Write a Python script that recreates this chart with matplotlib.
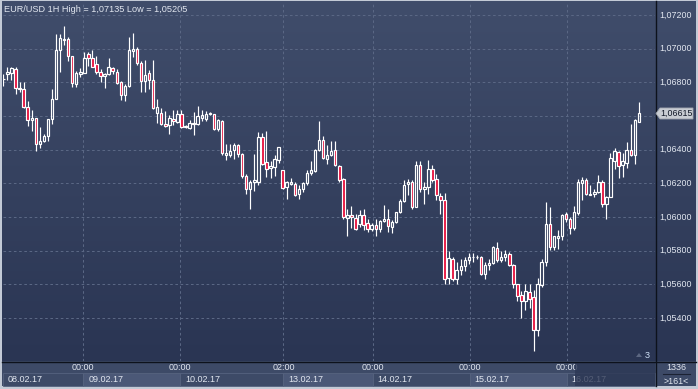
import numpy as np
import matplotlib
matplotlib.use("Agg")
import matplotlib.pyplot as plt
from matplotlib.transforms import blended_transform_factory, offset_copy
from matplotlib.patches import Rectangle, Polygon
from matplotlib.colors import LinearSegmentedColormap

# ---------------- data (EUR/USD 1H candles) ----------------
opens = [1.06818, 1.0685, 1.06856, 1.0688, 1.06766, 1.0676, 1.06654, 1.06574, 1.06586, 1.06436,
         1.06454, 1.0648, 1.0658, 1.067, 1.06994, 1.0705, 1.07056, 1.06954, 1.0679, 1.0685,
         1.06854, 1.0697, 1.06946, 1.06906, 1.06864, 1.0684, 1.0685, 1.06886, 1.06864, 1.06804,
         1.06726, 1.06778, 1.06986, 1.06998, 1.06916, 1.0681, 1.06854, 1.06814, 1.0662, 1.06616,
         1.0655, 1.06546, 1.06584, 1.06566, 1.0661, 1.0654, 1.0653, 1.0656, 1.0655, 1.06586,
         1.06584, 1.06614, 1.0661, 1.0652, 1.0657, 1.0637, 1.06366, 1.064, 1.06426, 1.06374,
         1.06246, 1.06166, 1.06206, 1.0621, 1.06474, 1.06324, 1.0629, 1.063, 1.0634, 1.0628,
         1.06176, 1.06194, 1.06198, 1.06134, 1.06166, 1.062, 1.0626, 1.06274, 1.064, 1.0646,
         1.06346, 1.0637, 1.064, 1.06306, 1.06226, 1.05994, 1.06014, 1.05994, 1.05958, 1.0601,
         1.05966, 1.05926, 1.05954, 1.0593, 1.05974, 1.05986, 1.05938, 1.0597, 1.0603, 1.06094,
         1.06194, 1.0621, 1.0606, 1.0631, 1.06164, 1.06176, 1.06284, 1.06224, 1.06124, 1.061,
         1.0564, 1.0575, 1.0563, 1.05684, 1.0571, 1.05744, 1.0576, 1.05762, 1.05764, 1.05664,
         1.05716, 1.05728, 1.05816, 1.05744, 1.0576, 1.0578, 1.05716, 1.056, 1.05536, 1.05504,
         1.05556, 1.05524, 1.0533, 1.05596, 1.0573, 1.0596, 1.05824, 1.05876, 1.0589, 1.06016,
         1.0599, 1.05936, 1.06024, 1.06204, 1.0622, 1.0613, 1.06136, 1.0615, 1.0621, 1.06076,
         1.0612, 1.06334, 1.06386, 1.0631, 1.0632, 1.064, 1.06366, 1.06566]
highs = [1.0685, 1.0689, 1.06894, 1.0689, 1.068, 1.068, 1.0669, 1.06634, 1.0659, 1.06534,
         1.06494, 1.0658, 1.0676, 1.0709, 1.07086, 1.07135, 1.0707, 1.06954, 1.0687, 1.06884,
         1.0698, 1.0698, 1.06994, 1.06954, 1.0688, 1.06854, 1.06944, 1.06894, 1.0688, 1.0681,
         1.0679, 1.0707, 1.07094, 1.0701, 1.06924, 1.0693, 1.06874, 1.06934, 1.067, 1.0665,
         1.0663, 1.06604, 1.06634, 1.06634, 1.06634, 1.06546, 1.06574, 1.06626, 1.0666, 1.06634,
         1.0663, 1.06626, 1.0661, 1.0658, 1.06574, 1.06434, 1.06434, 1.0644, 1.06434, 1.0638,
         1.06254, 1.0622, 1.06374, 1.06504, 1.065, 1.0651, 1.0633, 1.0637, 1.06414, 1.0628,
         1.06214, 1.0623, 1.0621, 1.0619, 1.0621, 1.0628, 1.0633, 1.06406, 1.0657, 1.0648,
         1.0643, 1.0645, 1.06454, 1.0631, 1.06234, 1.06046, 1.06066, 1.0602, 1.0604, 1.06046,
         1.0599, 1.05966, 1.05986, 1.0598, 1.06074, 1.06046, 1.0598, 1.0603, 1.0611, 1.0622,
         1.06226, 1.0622, 1.0633, 1.0633, 1.0621, 1.0634, 1.0631, 1.06256, 1.06144, 1.0614,
         1.058, 1.0576, 1.0573, 1.05748, 1.0576, 1.05784, 1.05784, 1.05776, 1.0577, 1.0573,
         1.0575, 1.0583, 1.0585, 1.058, 1.05804, 1.0579, 1.0572, 1.05604, 1.0556, 1.056,
         1.056, 1.05564, 1.0564, 1.0575, 1.0609, 1.0606, 1.0589, 1.0592, 1.0602, 1.0603,
         1.06, 1.06064, 1.06224, 1.06236, 1.0623, 1.0619, 1.06164, 1.0625, 1.0622, 1.06124,
         1.0638, 1.0641, 1.06394, 1.0638, 1.06444, 1.06554, 1.0658, 1.06684]
lows = [1.06776, 1.06814, 1.06814, 1.0673, 1.0674, 1.0665, 1.0654, 1.0651, 1.0639, 1.0641,
        1.06446, 1.0645, 1.0655, 1.067, 1.0686, 1.0702, 1.06926, 1.0677, 1.0677, 1.0683,
        1.06854, 1.069, 1.0689, 1.0685, 1.068, 1.06764, 1.06844, 1.0685, 1.0679, 1.06696,
        1.0669, 1.0677, 1.0695, 1.06904, 1.0674, 1.0674, 1.0676, 1.0664, 1.0656, 1.06546,
        1.06534, 1.06494, 1.06546, 1.0656, 1.0653, 1.06526, 1.06524, 1.0649, 1.06546, 1.0657,
        1.0657, 1.06606, 1.06516, 1.0651, 1.0637, 1.0634, 1.06354, 1.06346, 1.06354, 1.06234,
        1.06134, 1.06046, 1.06154, 1.0619, 1.0631, 1.0624, 1.0623, 1.06246, 1.0632, 1.06166,
        1.0611, 1.0619, 1.06126, 1.0611, 1.0615, 1.0619, 1.0625, 1.0627, 1.06394, 1.06346,
        1.06314, 1.0636, 1.06306, 1.06206, 1.0599, 1.0589, 1.05934, 1.0592, 1.0594, 1.0592,
        1.05914, 1.05918, 1.05886, 1.05914, 1.0597, 1.05914, 1.05906, 1.05966, 1.06026, 1.0609,
        1.0613, 1.0605, 1.0606, 1.0615, 1.0608, 1.06136, 1.0621, 1.061, 1.06016, 1.056,
        1.056, 1.0562, 1.056, 1.05656, 1.0568, 1.0572, 1.0573, 1.0575, 1.05656, 1.0563,
        1.05684, 1.0572, 1.0573, 1.0573, 1.05736, 1.0571, 1.0558, 1.05504, 1.054, 1.0545,
        1.0546, 1.05205, 1.05296, 1.05584, 1.0571, 1.05804, 1.05804, 1.0581, 1.05864, 1.0597,
        1.059, 1.05924, 1.0601, 1.061, 1.0613, 1.0613, 1.0612, 1.06144, 1.0606, 1.0599,
        1.0612, 1.06286, 1.0623, 1.0624, 1.0629, 1.0636, 1.06314, 1.06566]
closes = [1.06822, 1.0686, 1.06884, 1.06764, 1.0676, 1.06654, 1.06574, 1.0659, 1.06434, 1.0645,
          1.0648, 1.0658, 1.067, 1.06994, 1.07066, 1.0706, 1.06956, 1.06794, 1.06854, 1.06864,
          1.06946, 1.06946, 1.06894, 1.0686, 1.06838, 1.0685, 1.06894, 1.06866, 1.06796, 1.06726,
          1.0678, 1.0699, 1.07, 1.06914, 1.0681, 1.06846, 1.06814, 1.06646, 1.06654, 1.0655,
          1.0654, 1.0659, 1.0657, 1.0661, 1.06534, 1.06536, 1.0656, 1.0655, 1.066, 1.06604,
          1.06614, 1.0662, 1.0652, 1.06574, 1.0638, 1.0638, 1.06394, 1.06426, 1.06374, 1.06246,
          1.06166, 1.0621, 1.0622, 1.06474, 1.06314, 1.06284, 1.06306, 1.06346, 1.06414, 1.06174,
          1.06206, 1.0621, 1.0613, 1.06166, 1.062, 1.0626, 1.0628, 1.064, 1.0646, 1.0635,
          1.0637, 1.06394, 1.0631, 1.0622, 1.06, 1.06014, 1.06, 1.0593, 1.0601, 1.05954,
          1.05926, 1.05954, 1.05926, 1.05974, 1.05986, 1.05946, 1.0597, 1.0603, 1.06094, 1.0619,
          1.0621, 1.06058, 1.0631, 1.06164, 1.06176, 1.06284, 1.0622, 1.0613, 1.061, 1.05634,
          1.05756, 1.0563, 1.05684, 1.0571, 1.05744, 1.0576, 1.05764, 1.0576, 1.05664, 1.05716,
          1.05728, 1.05824, 1.05744, 1.05764, 1.0578, 1.05716, 1.056, 1.0553, 1.055, 1.0556,
          1.05516, 1.0533, 1.056, 1.0573, 1.0596, 1.0582, 1.0589, 1.0589, 1.0601, 1.0599,
          1.05936, 1.0603, 1.0621, 1.0622, 1.06136, 1.06136, 1.0615, 1.0621, 1.0608, 1.0612,
          1.0635, 1.0639, 1.06306, 1.0633, 1.064, 1.06366, 1.06574, 1.06615]

price_ticks = [1.072, 1.070, 1.068, 1.066, 1.064, 1.062, 1.060, 1.058, 1.056, 1.054]
time_tick_pos = [19.7, 43.7, 69.2, 91.2, 115.2, 139.2]
time_tick_labels = ["00:00", "00:00", "02:00", "00:00", "00:00", "00:00"]
date_labels = ["08.02.17", "09.02.17", "10.02.17", "13.02.17", "14.02.17", "15.02.17", "16.02.17"]
title = "EUR/USD 1H High = 1,07135 Low = 1,05205"
last_price = 1.06615
bars_total = "1336"
bars_visible = ">161<"

# ---------------- styling ----------------
W, H = 698, 389
FONT = "Liberation Sans"
TXT = "#e2e7f0"
RED = "#e6103c"
GRID = "#5a6784"
PX_PER_PRICE = 16835.0

fig = plt.figure(figsize=(W / 100, H / 100), dpi=100)
fig.patch.set_facecolor("#c3cad6")

bg = fig.add_axes([0, 0, 1, 1])
bg.set_xlim(0, W)
bg.set_ylim(H, 0)
bg.axis("off")

cmap = LinearSegmentedColormap.from_list("bg", ["#404d6b", "#2a3553"])
grad = np.linspace(0, 1, 256).reshape(-1, 1)
bg.imshow(grad, cmap=cmap, extent=(2, 696, 361, 1), aspect="auto", zorder=0)
# bottom band
bg.add_patch(Rectangle((2, 361), 694, 25, facecolor="#3d4a67", edgecolor="none", zorder=1))

# main axes
ax = fig.add_axes([3 / W, (H - 361) / H, 652 / W, 359 / H])
ax.set_facecolor("none")
ax.set_xlim(-0.1, 161.0)
ax.set_ylim(1.051448, 1.072772)
ax.axis("off")

for p in price_ticks:
    ax.axhline(p, color=GRID, lw=0.75, ls=(0, (2.5, 2.5)), zorder=1)
for t in time_tick_pos:
    ax.axvline(t, color=GRID, lw=0.75, ls=(0, (2.5, 2.5)), zorder=1)

o = np.array(opens); c = np.array(closes); h = np.array(highs); l = np.array(lows)
x = np.arange(len(o))
top = np.maximum(o, c)
bot = np.minimum(o, c)
up = c >= o
ax.vlines(x, top, h, color="white", lw=0.85, zorder=3)
ax.vlines(x, l, bot, color="white", lw=0.85, zorder=3)
hgt = np.maximum(top - bot, 1e-6)
ax.bar(x[up], hgt[up], bottom=bot[up], width=0.6, facecolor="none",
       edgecolor="white", linewidth=0.85, zorder=4)
ax.bar(x[~up], hgt[~up], bottom=bot[~up], width=0.6, facecolor=RED,
       edgecolor="white", linewidth=0.85, zorder=4)

# right price panel
axr = fig.add_axes([655 / W, (H - 361) / H, 41 / W, 359 / H])
axr.set_facecolor("none")
axr.set_xlim(0, 41)
axr.set_ylim(ax.get_ylim())
axr.axis("off")
hh = 5.5 / PX_PER_PRICE
for p in price_ticks:
    if abs(p - last_price) < 2.2 * hh:
        continue  # hidden behind the last-price marker
    axr.text(4, p, f"{p:.5f}".replace(".", ","), fontsize=6.4, family=FONT,
             color=TXT, va="center", ha="left")
axr.add_patch(Polygon([(1, last_price), (5, last_price + hh), (38, last_price + hh),
                       (38, last_price - hh), (5, last_price - hh)], closed=True,
                      facecolor="#c9cdd3", edgecolor="#9ea4ae", lw=0.6, zorder=5))
axr.text(5.3, last_price, f"{last_price:.5f}".replace(".", ","), fontsize=6.4, family=FONT,
         color="#111827", va="center", ha="left", zorder=6)

# separators
bg.plot([655.5, 655.5], [1, 386], color="#0d121c", lw=1.0, zorder=6)
bg.plot([2, 696], [361.5, 361.5], color="#0d121c", lw=1.0, zorder=6)

# title
bg.text(4, 9, title, fontsize=6.6, family=FONT, color=TXT, va="center", ha="left", zorder=7)

# bottom time axis
tr = blended_transform_factory(ax.transData, bg.transData)
box_starts = [ax.get_xlim()[0]] + time_tick_pos
box_ends = time_tick_pos + [ax.get_xlim()[1]]
for i, (s, e) in enumerate(zip(box_starts, box_ends)):
    light = i in (1, 3, 5)
    bg.add_patch(Rectangle((s, 373), e - s, 13, transform=tr,
                           facecolor="#4b5877" if light else "#3d4a67",
                           edgecolor="#56637f", lw=0.6, zorder=2))
    bg.text(s, 380, date_labels[i], transform=offset_copy(tr, fig=fig, x=5, y=0, units="dots"),
            fontsize=6.5, family=FONT, color=TXT, va="center", ha="left", zorder=3)
for t, lab in zip(time_tick_pos, time_tick_labels):
    bg.text(t, 368, lab, transform=tr, fontsize=6.5, family=FONT, color=TXT,
            va="center", ha="center", zorder=3)
# scroll overlay on the last day
bg.add_patch(Rectangle((575, 362), 80, 24, facecolor="#2c3754", alpha=0.78,
                       edgecolor="none", zorder=4))

# corner box
bg.text(676, 368, bars_total, fontsize=6.4, family=FONT, color=TXT, va="center", ha="center", zorder=7)
bg.plot([663, 690], [373.5, 373.5], color="#1b2233", lw=0.8, zorder=7)
bg.text(676, 381, bars_visible, fontsize=6.4, family=FONT, color=TXT, va="center", ha="center", zorder=7)

# bars counter marker
bg.add_patch(Polygon([(636, 357), (642, 357), (639, 353)], closed=True,
                     facecolor="#5c6781", edgecolor="none", zorder=7))
bg.text(647.5, 355, "3", fontsize=6.6, family=FONT, color="#cfe0f6", va="center", ha="center", zorder=7)

fig.savefig("out.png", dpi=100, facecolor=fig.get_facecolor())
